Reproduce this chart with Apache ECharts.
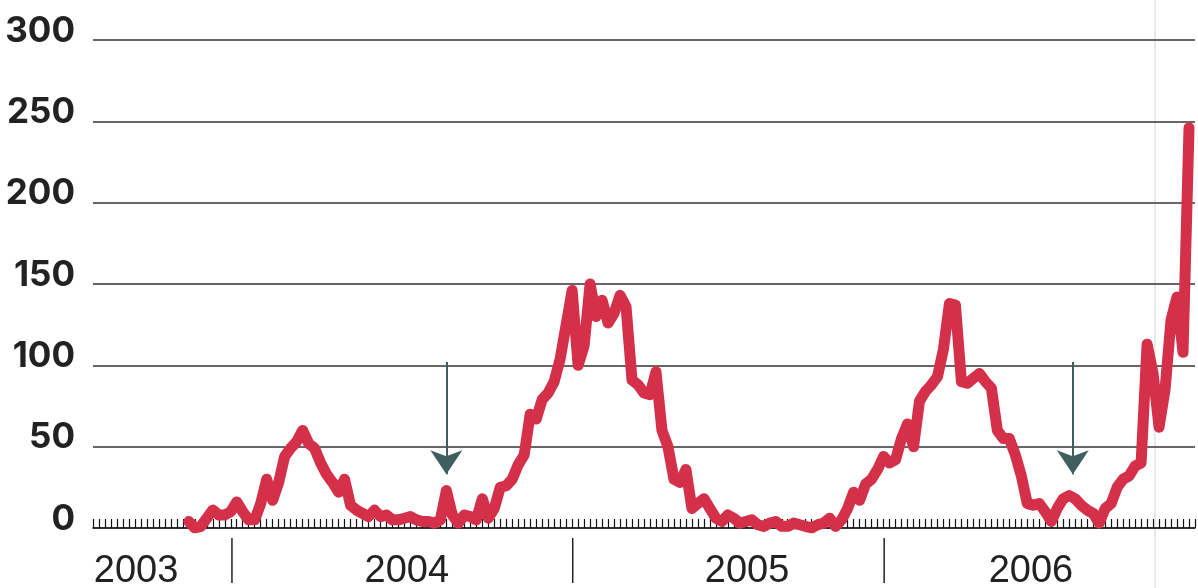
<!DOCTYPE html>
<html>
<head>
<meta charset="utf-8">
<script src="https://cdn.jsdelivr.net/npm/echarts@6/dist/echarts.min.js"></script>
<style>
  html, body { margin: 0; padding: 0; background: #fff; }
  #chart { width: 1198px; height: 588px; }
</style>
</head>
<body>
<div id="chart"></div>
<script>
// weekly counts, week index 0 = first tick on the axis
const firstWeek = 16;
const weeklyCounts = [
  4, 0, 1, 6, 11, 8, 8, 10, 16, 10, 5, 5, 15, 30, 17, 28, 44, 49, 53, 60,
  52, 49, 40, 33, 28, 22, 30, 14, 11, 9, 7, 11, 7, 8, 5, 5, 6, 7, 5, 4,
  4, 3, 5, 23, 8, 3, 8, 7, 5, 18, 6, 12, 25, 26, 30, 39, 45, 70, 67, 79,
  83, 90, 104, 125, 146, 100, 112, 150, 130, 140, 126, 132, 143, 136, 91, 88, 83, 82, 96, 60,
  50, 30, 28, 36, 12, 15, 18, 12, 6, 4, 8, 6, 3, 4, 5, 2, 1, 3, 4, 1,
  1, 3, 2, 1, 0, 2, 3, 6, 1, 5, 12, 22, 17, 27, 30, 36, 44, 40, 42, 55,
  64, 50, 78, 84, 88, 93, 110, 138, 137, 90, 89, 92, 95, 90, 86, 60, 55, 55, 45, 32,
  15, 14, 15, 10, 4, 12, 18, 20, 18, 14, 11, 9, 3, 12, 15, 25, 30, 32, 38, 40,
  113, 95, 62, 85, 128, 142, 108, 246
];
const weekCount = 184;

const yearLabels = ['2003', '2004', '2005', '2006'];
const yearLabelWeeks = [7.2, 52.4, 109.2, 156.6];
const yearBreakWeeks = [23.2, 80.1, 132.1];

const arrowWeeks = [59, 163.6];
const arrowFrom = 102;
const arrowTo = 33;
const todayWeek = 177.3;

const seriesData = weeklyCounts.map((v, i) => [firstWeek + i, v]);

const chart = echarts.init(document.getElementById('chart'));

const option = {
  animation: false,
  grid: {left: 93, right: 3, top: 40, bottom: 60, outerBoundsMode: 'none'},
  xAxis: [
    {
      type: 'value',
      min: 0,
      max: weekCount,
      interval: 1,
      axisLine: {show: true, onZero: false, lineStyle: {color: '#222', width: 1.5}},
      axisTick: {show: true, inside: true, length: 9, lineStyle: {color: '#111', width: 1.2}},
      axisLabel: {show: false},
      splitLine: {show: false}
    },
    {
      type: 'value',
      min: 0,
      max: weekCount,
      position: 'bottom',
      axisLine: {show: false},
      axisTick: {show: false},
      axisLabel: {
        show: true,
        customValues: yearLabelWeeks,
        formatter: v => yearLabels[yearLabelWeeks.indexOf(v)] || '',
        margin: 25,
        fontFamily: 'Liberation Sans',
        fontSize: 38,
        color: '#222'
      },
      splitLine: {show: false}
    }
  ],
  yAxis: {
    type: 'value',
    min: 0,
    max: 300,
    interval: 50,
    axisLine: {show: false},
    axisTick: {show: false},
    axisLabel: {
      margin: 18,
      fontFamily: 'Inter',
      fontWeight: 'bold',
      fontSize: 35,
      color: '#222',
      verticalAlign: 'bottom',
      lineHeight: 18
    },
    splitLine: {lineStyle: {color: '#666', width: 2}}
  },
  series: [
    {
      type: 'line',
      data: seriesData,
      symbol: 'none',
      lineStyle: {color: '#d5304a', width: 11, cap: 'round', join: 'round'},
      z: 5,
      markLine: {
        silent: true,
        symbol: ['none', 'arrow'],
        symbolSize: 24,
        label: {show: false},
        lineStyle: {color: '#3f5f5f', width: 2, type: 'solid'},
        data: arrowWeeks.map(w => [{coord: [w, arrowFrom]}, {coord: [w, arrowTo]}])
      }
    }
  ]
};

chart.setOption(option);

// year separators below the axis and the thin grey line through the whole picture
const toX = w => chart.convertToPixel({xAxisIndex: 0}, w);
const baseY = chart.convertToPixel({yAxisIndex: 0}, 0);
const graphics = yearBreakWeeks.map(w => ({
  type: 'line',
  shape: {x1: toX(w), y1: baseY + 10, x2: toX(w), y2: baseY + 55},
  style: {stroke: '#222', lineWidth: 1.5}
}));
graphics.push({
  type: 'line',
  z: -1,
  shape: {x1: toX(todayWeek), y1: 0, x2: toX(todayWeek), y2: 588},
  style: {stroke: '#e8e8e8', lineWidth: 2}
});
chart.setOption({graphic: graphics});
</script>
</body>
</html>
